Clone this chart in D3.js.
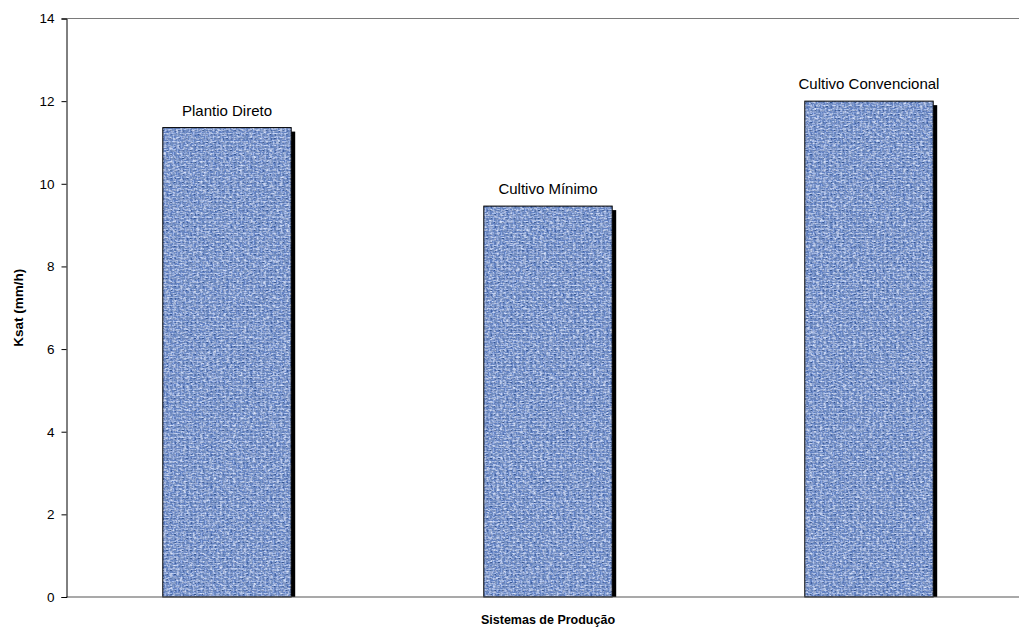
<!DOCTYPE html>
<html>
<head>
<meta charset="utf-8">
<script src="https://cdn.jsdelivr.net/npm/d3@7"></script>
<style>
  html, body { margin: 0; padding: 0; background: #fff; }
  text { font-family: "Liberation Sans", Arial, sans-serif; }
</style>
</head>
<body>
<svg id="chart" width="1019" height="629"></svg>
<script>
// Saturated hydraulic conductivity by production system
const categories = ["Plantio Direto", "Cultivo Mínimo", "Cultivo Convencional"];
const ksat = [11.36, 9.46, 12.0];
const yTicks = [0, 2, 4, 6, 8, 10, 12, 14];
const yTitle = "Ksat (mm/h)";
const xTitle = "Sistemas de Produção";

const svg = d3.select("#chart");
const plotLeft = 66.5, plotRight = 1029.5, plotTop = 18.5, plotBottom = 597;

const x = d3.scaleBand().domain(categories).range([plotLeft, plotRight]).paddingInner(0.6).paddingOuter(0.3);
const y = d3.scaleLinear().domain([0, 14]).range([plotBottom, plotTop]);

// woven-cloth texture for the bars: a weave pattern mottled by two noise layers
const defs = svg.append("defs");
const filt = defs.append("filter").attr("id", "grain").attr("x", 0).attr("y", 0).attr("width", 1).attr("height", 1);
filt.append("feTurbulence").attr("type", "fractalNoise").attr("baseFrequency", "0.45 0.3")
  .attr("numOctaves", 2).attr("seed", 7).attr("result", "noise");
filt.append("feColorMatrix").attr("in", "noise").attr("type", "matrix")
  .attr("values", "0 0 0 0 0.17  0 0 0 0 0.27  0 0 0 0 0.52  2.6 0 0 0 -1.05").attr("result", "dark");
filt.append("feComposite").attr("in", "dark").attr("in2", "SourceGraphic").attr("operator", "in").attr("result", "darkIn");
filt.append("feTurbulence").attr("type", "fractalNoise").attr("baseFrequency", "0.3 0.6")
  .attr("numOctaves", 2).attr("seed", 23).attr("result", "noise2");
filt.append("feColorMatrix").attr("in", "noise2").attr("type", "matrix")
  .attr("values", "0 0 0 0 0.72  0 0 0 0 0.8  0 0 0 0 0.97  2.4 0 0 0 -1.05").attr("result", "light");
filt.append("feComposite").attr("in", "light").attr("in2", "SourceGraphic").attr("operator", "in").attr("result", "lightIn");
filt.append("feMerge").selectAll("feMergeNode").data(["SourceGraphic", "lightIn", "darkIn"]).join("feMergeNode").attr("in", d => d);

const pat = defs.append("pattern").attr("id", "weave").attr("patternUnits", "userSpaceOnUse")
  .attr("width", 8).attr("height", 8);
pat.append("rect").attr("width", 8).attr("height", 8).attr("fill", "#6080c2");
pat.append("rect").attr("x", 0).attr("y", 1).attr("width", 4).attr("height", 1).attr("fill", "#a9c0ee");
pat.append("rect").attr("x", 4).attr("y", 5).attr("width", 4).attr("height", 1).attr("fill", "#a9c0ee");
pat.append("rect").attr("x", 5).attr("y", 0).attr("width", 1).attr("height", 4).attr("fill", "#93aee6");
pat.append("rect").attr("x", 1).attr("y", 4).attr("width", 1).attr("height", 4).attr("fill", "#93aee6");
pat.append("rect").attr("x", 2).attr("y", 2).attr("width", 2).attr("height", 1).attr("fill", "#34558f");
pat.append("rect").attr("x", 6).attr("y", 6).attr("width", 2).attr("height", 1).attr("fill", "#34558f");
pat.append("rect").attr("x", 7).attr("y", 2).attr("width", 1).attr("height", 2).attr("fill", "#40619f");
pat.append("rect").attr("x", 3).attr("y", 6).attr("width", 1).attr("height", 2).attr("fill", "#40619f");

// plot frame (top and right edges)
svg.append("path").attr("d", `M${plotLeft},${plotTop}H${plotRight}V${plotBottom}`)
  .attr("fill", "none").attr("stroke", "#7a7a7a").attr("stroke-width", 1);

// drop shadows
svg.append("g").selectAll("rect").data(categories).join("rect")
  .attr("x", d => x(d) + 4).attr("y", (d, i) => y(ksat[i]) + 4)
  .attr("width", x.bandwidth()).attr("height", (d, i) => plotBottom - y(ksat[i]) - 4)
  .attr("fill", "#000");

// bars
svg.append("g").selectAll("rect").data(categories).join("rect")
  .attr("x", d => x(d)).attr("y", (d, i) => y(ksat[i]))
  .attr("width", x.bandwidth()).attr("height", (d, i) => plotBottom - y(ksat[i]))
  .attr("fill", "url(#weave)").attr("filter", "url(#grain)");
svg.append("g").selectAll("rect").data(categories).join("rect")
  .attr("x", d => x(d)).attr("y", (d, i) => y(ksat[i]))
  .attr("width", x.bandwidth()).attr("height", (d, i) => plotBottom - y(ksat[i]))
  .attr("fill", "none").attr("stroke", "#000").attr("stroke-width", 1);

// category labels above the bars
svg.append("g").selectAll("text").data(categories).join("text")
  .attr("x", d => x(d) + x.bandwidth() / 2).attr("y", (d, i) => y(ksat[i]) - 12)
  .attr("text-anchor", "middle").attr("font-size", 15).attr("fill", "#000").text(d => d);

// x axis line
svg.append("line").attr("x1", plotLeft).attr("x2", plotRight).attr("y1", plotBottom).attr("y2", plotBottom)
  .attr("stroke", "#555").attr("stroke-width", 1.2);

// y axis
const yAxis = d3.axisLeft(y).tickValues(yTicks).tickSize(5).tickPadding(7).tickFormat(d3.format("d"));
const gy = svg.append("g").attr("transform", `translate(${plotLeft},0)`).call(yAxis);
gy.select(".domain").attr("stroke", "#000");
gy.selectAll(".tick line").attr("stroke", "#000");
gy.selectAll(".tick text").attr("font-size", 13.5).attr("fill", "#000")
  .attr("font-family", "'Liberation Sans', Arial, sans-serif");

// axis titles
svg.append("text").attr("transform", `translate(23,${(plotTop + plotBottom) / 2}) rotate(-90)`)
  .attr("text-anchor", "middle").attr("font-size", 13.5).attr("font-weight", "bold").text(yTitle);
svg.append("text").attr("x", (plotLeft + plotRight) / 2).attr("y", 624)
  .attr("text-anchor", "middle").attr("font-size", 12.5).attr("font-weight", "bold").text(xTitle);
</script>
</body>
</html>
